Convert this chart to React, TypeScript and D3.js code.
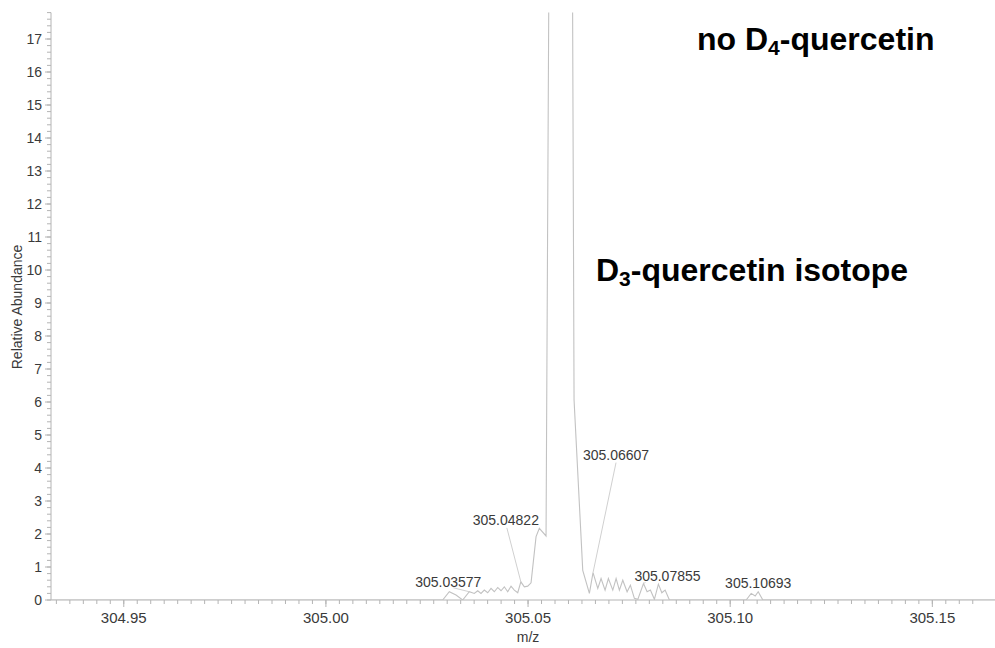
import React, { useEffect, useRef } from "react"
import * as d3 from "d3"

// profile spectrum (m/z, relative abundance)
const mzValues = [
    304.932, 305.02888, 305.03052, 305.03218, 305.03383, 305.03547, 305.0367,
    305.03755, 305.03836, 305.03918, 305.04002, 305.04084, 305.04165, 305.0425,
    305.04331, 305.04413, 305.04497, 305.04579, 305.0466, 305.04745, 305.04822,
    305.04908, 305.04992, 305.05074, 305.05198, 305.05279, 305.05445, 305.05853,
    305.06138, 305.06353, 305.06517, 305.06607, 305.06725, 305.06806, 305.06905,
    305.06987, 305.07096, 305.07178, 305.07259, 305.07343, 305.0745, 305.07531,
    305.0763, 305.07715, 305.07855, 305.07945, 305.08026, 305.08125, 305.08224,
    305.08309, 305.0839, 305.08497, 305.10395, 305.10519, 305.10618, 305.10693,
    305.10808, 305.1655
]
const abundance = [
    0, 0, 0.25, 0.15, 0, 0.25, 0.2,
    0.28, 0.2, 0.3, 0.22, 0.35, 0.25, 0.38,
    0.28, 0.4, 0.25, 0.42, 0.3, 0.22, 0.55,
    0.4, 0.42, 0.52, 1.92, 2.17, 1.94, 100,
    6.06, 0.9, 0.2, 0.83, 0.35, 0.65, 0.3,
    0.65, 0.3, 0.65, 0.3, 0.6, 0.25, 0.45,
    0.05, 0.02, 0.5, 0.25, 0.3, 0.02, 0.48,
    0.22, 0.3, 0, 0, 0.2, 0.12, 0.25,
    0, 0
]

// labelled peaks
const peakLabels = ["305.03577", "305.04822", "305.06607", "305.07855", "305.10693"]
const peakMz = [305.03547, 305.04822, 305.06607, 305.07855, 305.10693]
const peakAbundance = [0.25, 0.55, 0.83, 0.5, 0.25]

const xDomain = [304.932, 305.1655]
const yDomain = [0, 17.8]
const xTickLabels = ["304.95", "305.00", "305.05", "305.10", "305.15"]
const yTickLabels = d3.range(0, 18).map(String)

const xLabel = "m/z"
const yLabel = "Relative Abundance"

function Spectrum() {
    const ref = useRef<SVGSVGElement>(null)

    useEffect(() => {
        const svg = d3.select(ref.current)
        svg.selectAll("*").remove()
        const width = 995
        const height = 648
        const left = 51
        const right = 995
        const top = 12.6
        const bottom = 600
        const axisColor = "#b4b4b4"
        const textColor = "#3a3a3a"
        const font = "Liberation Sans, Arial, sans-serif"

        svg.attr("width", width).attr("height", height)

        const xScale = d3.scaleLinear().domain(xDomain).range([left, right])
        const yScale = d3.scaleLinear().domain(yDomain).range([bottom, top])

        svg.append("defs")
            .append("clipPath")
            .attr("id", "plotClip")
            .append("rect")
            .attr("x", left)
            .attr("y", top)
            .attr("width", right - left)
            .attr("height", bottom - top)

        // y axis
        const yMinor = d3.range(0, 17.81, 0.2)
        svg.append("g")
            .selectAll("line")
            .data(yMinor)
            .enter()
            .append("line")
            .attr("x1", left - 4)
            .attr("x2", left)
            .attr("y1", d => yScale(d))
            .attr("y2", d => yScale(d))
            .attr("stroke", axisColor)
        svg.append("g")
            .selectAll("line")
            .data(yTickLabels)
            .enter()
            .append("line")
            .attr("x1", left - 6)
            .attr("x2", left)
            .attr("y1", d => yScale(+d))
            .attr("y2", d => yScale(+d))
            .attr("stroke", axisColor)
        svg.append("g")
            .selectAll("text")
            .data(yTickLabels)
            .enter()
            .append("text")
            .attr("x", left - 9)
            .attr("y", d => yScale(+d) + 5)
            .attr("text-anchor", "end")
            .attr("font-family", font)
            .attr("font-size", 14)
            .attr("fill", textColor)
            .text(d => d)
        svg.append("line")
            .attr("x1", left)
            .attr("x2", left)
            .attr("y1", top)
            .attr("y2", bottom)
            .attr("stroke", axisColor)

        // x axis
        const xStep = 0.05 / 15
        const xMinor = d3.range(-5, 64).map(i => 304.95 + i * xStep).filter(d => d >= xDomain[0] && d <= xDomain[1])
        svg.append("g")
            .selectAll("line")
            .data(xMinor)
            .enter()
            .append("line")
            .attr("x1", d => xScale(d))
            .attr("x2", d => xScale(d))
            .attr("y1", bottom)
            .attr("y2", bottom + 4)
            .attr("stroke", axisColor)
        svg.append("g")
            .selectAll("line")
            .data(xTickLabels)
            .enter()
            .append("line")
            .attr("x1", d => xScale(+d))
            .attr("x2", d => xScale(+d))
            .attr("y1", bottom)
            .attr("y2", bottom + 7)
            .attr("stroke", axisColor)
        svg.append("g")
            .selectAll("text")
            .data(xTickLabels)
            .enter()
            .append("text")
            .attr("x", d => xScale(+d))
            .attr("y", bottom + 23)
            .attr("text-anchor", "middle")
            .attr("font-family", font)
            .attr("font-size", 15)
            .attr("fill", textColor)
            .text(d => d)
        svg.append("line")
            .attr("x1", left)
            .attr("x2", right)
            .attr("y1", bottom)
            .attr("y2", bottom)
            .attr("stroke", axisColor)

        svg.append("text")
            .attr("x", xScale(305.05))
            .attr("y", 642)
            .attr("text-anchor", "middle")
            .attr("font-family", font)
            .attr("font-size", 14)
            .attr("fill", textColor)
            .text(xLabel)
        svg.append("text")
            .attr("transform", "translate(22," + 307 + ") rotate(-90)")
            .attr("text-anchor", "middle")
            .attr("font-family", font)
            .attr("font-size", 14)
            .attr("fill", textColor)
            .text(yLabel)

        // spectrum
        const points = mzValues.map((m, i) => [m, abundance[i]] as [number, number])
        const line = d3.line<[number, number]>()
            .x(d => xScale(d[0]))
            .y(d => yScale(d[1]))
        svg.append("path")
            .datum(points)
            .attr("clip-path", "url(#plotClip)")
            .attr("d", line)
            .attr("fill", "none")
            .attr("stroke", "#c2c2c2")
            .attr("stroke-width", 1.1)

        // peak labels, offsets from the peak in px
        const labelDx = [-21, -15, 23, 24, 0]
        const labelDy = [-5, -57, -113, -3, -4]
        const leaderFrom = [[-16, 1], [-14, 3], [23, 3], [2, 2], null]
        peakLabels.forEach((lbl, i) => {
            const px = xScale(peakMz[i])
            const py = yScale(peakAbundance[i])
            const lf = leaderFrom[i]
            if (lf) {
                svg.append("line")
                    .attr("x1", px + lf[0])
                    .attr("y1", py + labelDy[i] + lf[1])
                    .attr("x2", px)
                    .attr("y2", py)
                    .attr("stroke", "#d0d0d0")
                    .attr("stroke-width", 1)
            }
            svg.append("text")
                .attr("x", px + labelDx[i])
                .attr("y", py + labelDy[i])
                .attr("text-anchor", "middle")
                .attr("font-family", font)
                .attr("font-size", 14)
                .attr("fill", textColor)
                .text(lbl)
        })

        // annotations
        const note1 = svg.append("text")
            .attr("x", 697)
            .attr("y", 50)
            .attr("font-family", font)
            .attr("font-size", 32)
            .attr("font-weight", "bold")
            .attr("fill", "#000")
        note1.append("tspan").text("no D")
        note1.append("tspan").attr("font-size", 21).attr("dy", 5).text("4")
        note1.append("tspan").attr("dy", -5).text("-quercetin")

        const note2 = svg.append("text")
            .attr("x", 596)
            .attr("y", 281)
            .attr("font-family", font)
            .attr("font-size", 32)
            .attr("font-weight", "bold")
            .attr("fill", "#000")
        note2.append("tspan").text("D")
        note2.append("tspan").attr("font-size", 21).attr("dy", 5).text("3")
        note2.append("tspan").attr("dy", -5).text("-quercetin isotope")
    }, [])

    return <svg ref={ref} style={{ position: "absolute", left: 0, top: 0 }} />
}

export default function App() {
    return <Spectrum />
}
